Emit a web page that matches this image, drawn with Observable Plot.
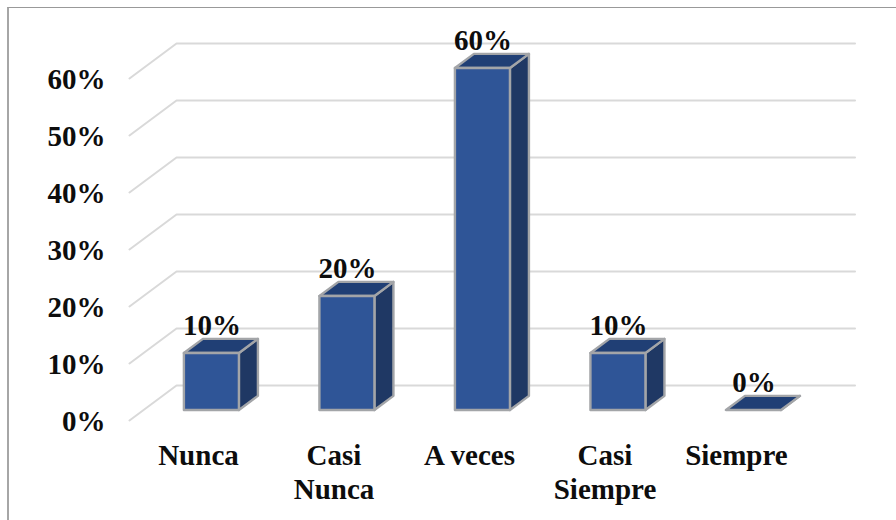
<!DOCTYPE html>
<html lang="es">
<head>
<meta charset="utf-8">
<script src="https://cdn.jsdelivr.net/npm/d3@7"></script>
<script src="https://cdn.jsdelivr.net/npm/@observablehq/plot@0.6"></script>
<style>
  html, body { margin: 0; padding: 0; background: #fff; overflow: hidden; width: 896px; height: 520px; }
  #chart { position: absolute; left: 0; top: 0; }
  #box { position: absolute; left: 7px; top: 7px; width: 1000px; height: 1000px; box-sizing: border-box; border-top: 1px solid #999; border-left: 2px solid #a6a6a6; }
</style>
</head>
<body>
<div id="box"></div>
<div id="chart"></div>
<script>
// Survey answers and their share of responses
const categories = ["Nunca", "Casi\nNunca", "A veces", "Casi\nSiempre", "Siempre"];
const shares = [10, 20, 60, 10, 0];
const yTicks = [0, 10, 20, 30, 40, 50, 60];

// Oblique projection: moving one unit into the depth of the chart
// shifts a point by these amounts in data units.
const depthX = 0.347;
const depthY = 6.14;
const barFront = 0.286;
const barBack = 0.69;
const barHalf = 0.203;
const wallLeft = -0.509;
const wallRight = 4.845;

const bars = categories.map((c, i) => ({i, c, v: shares[i]}));

// Gridlines run along the floor side wall, then across the back wall
const grid = yTicks.flatMap(v => [
  {v, x: wallLeft, y: v},
  {v, x: wallLeft + depthX, y: v + depthY},
  {v, x: wallRight, y: v + depthY}
]);

const frontX = (b, side) => b.i + side * barHalf + barFront * depthX;
const frontY = (v) => v + barFront * depthY;
const run = barBack - barFront;

const sides = bars.flatMap(b => [0, 1].map(t => ({
  i: b.i,
  x: frontX(b, 1) + t * run * depthX,
  y1: frontY(0) + t * run * depthY,
  y2: frontY(b.v) + t * run * depthY
})));
const tops = bars.flatMap(b => [0, 1].map(t => ({
  i: b.i,
  y: frontY(b.v) + t * run * depthY,
  x1: frontX(b, -1) + t * run * depthX,
  x2: frontX(b, 1) + t * run * depthX
})));

const edge = {stroke: "#a3a5a8", strokeWidth: 2.4, strokeLinejoin: "round"};
const serif = {fontFamily: "Liberation Serif", fontWeight: "bold", fontSize: 29, fill: "#0d0d0d"};

// The last category label sits a little left of its slot
const labelX = b => b.i - (b.i === 4 ? 0.03 : 0);

const chart = Plot.plot({
  width: 896,
  height: 520,
  marginTop: 0, marginRight: 40, marginBottom: 100, marginLeft: 105,
  style: {background: "transparent", overflow: "visible"},
  x: {type: "linear", domain: [-0.686, 4.856], range: [105, 856], axis: null},
  y: {type: "linear", domain: [0, 60], range: [420, 78]},
  marks: [
    Plot.line(grid, {x: "x", y: "y", z: "v", stroke: "#d9d9d9", strokeWidth: 2}),
    Plot.areaY(sides, {x: "x", y1: "y1", y2: "y2", z: "i", fill: "#1f3864", curve: "linear", ...edge}),
    Plot.areaX(tops, {y: "y", x1: "x1", x2: "x2", z: "i", fill: "#203f75", curve: "linear", ...edge}),
    Plot.rect(bars, {
      x1: b => frontX(b, -1), x2: b => frontX(b, 1),
      y1: () => frontY(0), y2: b => frontY(b.v),
      fill: "#2f5597", ...edge
    }),
    Plot.axisY({
      ticks: yTicks, tickFormat: d => d + "%", tickSize: 0, tickPadding: 0,
      anchor: "left", label: null, dy: 1, ...serif
    }),
    Plot.text(bars, {
      x: b => frontX(b, 0), y: b => frontY(b.v), text: b => b.v + "%",
      dy: -28, ...serif
    }),
    Plot.text(bars, {
      x: labelX, y: () => 0, text: "c", dy: 20, lineAnchor: "top",
      lineHeight: 1.17, ...serif
    })
  ]
});
document.getElementById("chart").append(chart);
</script>
</body>
</html>
